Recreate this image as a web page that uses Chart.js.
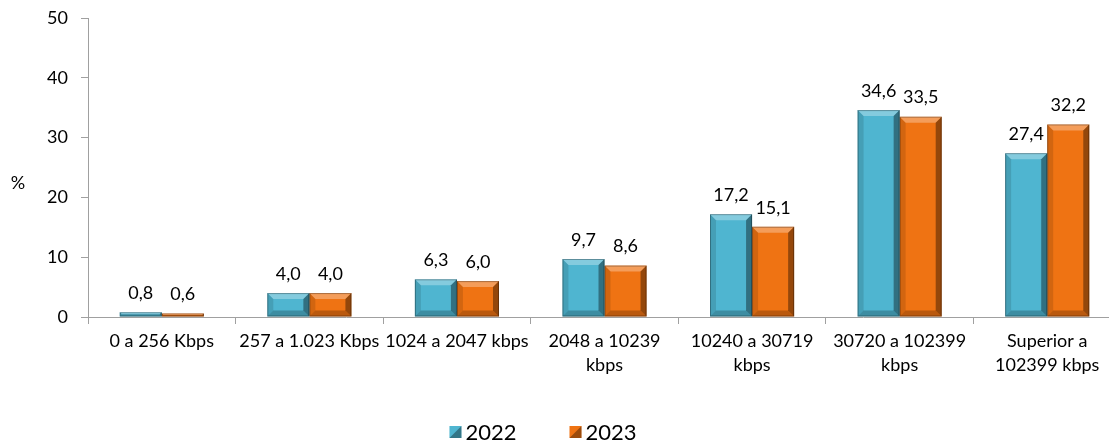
<!DOCTYPE html>
<html lang="es">
<head>
<meta charset="UTF-8">
<title>Velocidad</title>
<script src="https://cdn.jsdelivr.net/npm/chart.js@4.4.0/dist/chart.umd.min.js"></script>
<style>
  html, body { margin: 0; padding: 0; background: #fff; overflow: hidden; }
  #wrap { width: 1125px; height: 440px; }
</style>
</head>
<body>
<div id="wrap"><canvas id="grafico"></canvas></div>
<script>
// datos
const categorias = [
  '0 a 256 Kbps',
  '257 a 1.023 Kbps',
  '1024 a 2047 kbps',
  ['2048 a 10239', 'kbps'],
  ['10240 a 30719', 'kbps'],
  ['30720 a 102399', 'kbps'],
  ['Superior a', '102399 kbps']
];
const serie2022 = [0.8, 4.0, 6.3, 9.7, 17.2, 34.6, 27.4];
const serie2023 = [0.6, 4.0, 6.0, 8.6, 15.1, 33.5, 32.2];
const años = ['2022', '2023'];
const ticksY = [0, 10, 20, 30, 40, 50];

const azul = '#4fb5d0';
const naranja = '#ef7313';
const fuente = 'Lato, "Open Sans", sans-serif';

// efecto de bisel sobre cada barra
const bisel = {
  id: 'bisel',
  afterDatasetsDraw(chart) {
    const ctx = chart.ctx;
    chart.data.datasets.forEach((ds, i) => {
      chart.getDatasetMeta(i).data.forEach(bar => {
        const l = bar.x - bar.width / 2, r = bar.x + bar.width / 2;
        const t = bar.y, b = bar.base;
        const h = b - t;
        const w = Math.min(6, h / 2, bar.width / 2);
        if (h < 1) return;
        ctx.save();
        ctx.fillStyle = 'rgba(255,255,255,0.3)';
        ctx.beginPath();
        ctx.moveTo(l, t); ctx.lineTo(r, t); ctx.lineTo(r - w, t + w); ctx.lineTo(l + w, t + w); ctx.closePath();
        ctx.fill();
        ctx.fillStyle = 'rgba(0,0,0,0.12)';
        ctx.beginPath();
        ctx.moveTo(l, t); ctx.lineTo(l + w, t + w); ctx.lineTo(l + w, b - w); ctx.lineTo(l, b); ctx.closePath();
        ctx.fill();
        ctx.fillStyle = 'rgba(0,0,0,0.38)';
        ctx.beginPath();
        ctx.moveTo(r, t); ctx.lineTo(r, b); ctx.lineTo(r - w, b - w); ctx.lineTo(r - w, t + w); ctx.closePath();
        ctx.fill();
        ctx.fillStyle = 'rgba(0,0,0,0.22)';
        ctx.beginPath();
        ctx.moveTo(l, b); ctx.lineTo(l + w, b - w); ctx.lineTo(r - w, b - w); ctx.lineTo(r, b); ctx.closePath();
        ctx.fill();
        ctx.strokeStyle = 'rgba(0,0,0,0.3)';
        ctx.lineWidth = 1;
        ctx.strokeRect(l + 0.5, t + 0.5, bar.width - 1, h - 1);
        ctx.restore();
      });
    });
  }
};

// etiquetas de valor
const etiquetas = {
  id: 'etiquetas',
  afterDatasetsDraw(chart) {
    const ctx = chart.ctx;
    ctx.save();
    ctx.font = '18px ' + fuente;
    ctx.fillStyle = '#000';
    ctx.textAlign = 'center';
    ctx.textBaseline = 'bottom';
    chart.data.datasets.forEach((ds, i) => {
      chart.getDatasetMeta(i).data.forEach((bar, j) => {
        const txt = ds.data[j].toFixed(1).replace('.', ',');
        ctx.fillText(txt, bar.x, bar.y - 10);
      });
    });
    ctx.restore();
  }
};

// titulo del eje y (horizontal) y leyenda abajo
const extras = {
  id: 'extras',
  afterDraw(chart) {
    const ctx = chart.ctx;
    const a = chart.chartArea;
    ctx.save();
    ctx.font = '18px ' + fuente;
    ctx.fillStyle = '#000';
    ctx.textAlign = 'center';
    ctx.textBaseline = 'middle';
    ctx.fillText('%', 18, 183);

    // leyenda
    ctx.font = '22px ' + fuente;
    ctx.textAlign = 'left';
    const y = 432, caja = 12, hueco = 4, sep = 53;
    const items = chart.data.datasets.map(ds => ({ t: ds.label, c: ds.backgroundColor, w: ctx.measureText(ds.label).width }));
    let total = 0;
    items.forEach((it, k) => { total += caja + hueco + it.w + (k ? sep : 0); });
    let x = 543 - total / 2;
    items.forEach(it => {
      const top = y - caja / 2;
      ctx.fillStyle = it.c;
      ctx.fillRect(x, top, caja, caja);
      ctx.fillStyle = 'rgba(0,0,0,0.35)';
      ctx.beginPath();
      ctx.moveTo(x + caja, top); ctx.lineTo(x + caja, top + caja); ctx.lineTo(x, top + caja); ctx.closePath();
      ctx.fill();
      ctx.fillStyle = '#000';
      ctx.fillText(it.t, x + caja + hueco, y + 1);
      x += caja + hueco + it.w + sep;
    });
    ctx.restore();
  }
};

new Chart(document.getElementById('grafico'), {
  type: 'bar',
  data: {
    labels: categorias,
    datasets: [
      { label: años[0], data: serie2022, backgroundColor: azul, borderWidth: 0 },
      { label: años[1], data: serie2023, backgroundColor: naranja, borderWidth: 0 }
    ]
  },
  options: {
    responsive: true,
    maintainAspectRatio: false,
    animation: false,
    categoryPercentage: 0.57,
    barPercentage: 1.0,
    layout: { padding: { top: 18, right: 4, left: 38, bottom: 63 } },
    plugins: {
      tooltip: { enabled: false },
      legend: { display: false }
    },
    scales: {
      x: {
        afterFit(scale) { scale.height = 60; scale.paddingLeft = 0; scale.paddingRight = 0; },
        grid: { display: true, drawOnChartArea: false, color: '#a0a0a0', tickLength: 7 },
        border: { color: '#a0a0a0' },
        ticks: { font: { family: fuente, size: 18, lineHeight: 1.35 }, color: '#000', maxRotation: 0, autoSkip: false, padding: 5 }
      },
      y: {
        min: 0,
        max: 50,
        afterBuildTicks(scale) { scale.ticks = ticksY.map(v => ({ value: v })); },
        afterFit(scale) { scale.width = 50; scale.paddingTop = 0; scale.paddingBottom = 0; },
        grid: { display: true, drawOnChartArea: false, color: '#a0a0a0', tickLength: 7 },
        border: { color: '#a0a0a0' },
        ticks: { font: { family: fuente, size: 18 }, color: '#000', padding: 13 }
      }
    }
  },
  plugins: [bisel, etiquetas, extras]
});
</script>
</body>
</html>
